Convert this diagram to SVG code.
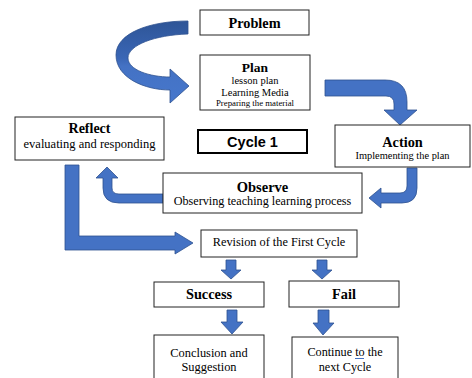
<svg xmlns="http://www.w3.org/2000/svg" width="472" height="378" viewBox="0 0 472 378">
<defs>
<style>
.box{fill:#fff;stroke:#222;stroke-width:1}
.thick{fill:#fff;stroke:#000;stroke-width:2}
.arr{fill:#4472C4;stroke:#2F528F;stroke-width:0.8}
.t{font-family:"Liberation Serif","Times New Roman",serif;fill:#000;text-anchor:middle}
.b{font-weight:bold}
.s{font-family:"Liberation Sans",Arial,sans-serif;font-weight:bold;fill:#000;text-anchor:middle}
</style>
<linearGradient id="rib" x1="0" y1="0" x2="0" y2="1">
<stop offset="0" stop-color="#2E5597"/>
<stop offset="0.45" stop-color="#3A66B5"/>
<stop offset="0.55" stop-color="#4472C4"/>
<stop offset="1" stop-color="#4677CC"/>
</linearGradient>
</defs>
<rect width="472" height="378" fill="#fff"/>
<g id="connectors">
<path d="M188,21 C150,21 116,33 116,55 C116,78 145,90 170,90 L170,103 L189,86 L170,69 L170,77 C150,77 128,70 128,58 C128,45 155,35 188,34 Z" fill="url(#rib)" stroke="#2F528F" stroke-width="0.8"/>
<path class="arr" d="M325,80 L385,80 Q407,80 407,102 L407,110 L417,110 L400,125 L384,110 L394,110 L394,104 Q394,96 386,96 L325,96 Z"/>
<path class="arr" d="M407,168 L417,168 L417,188 Q417,203 402,203 L381,203 L381,208 L369,198 L381,188 L381,193 L400,193 Q407,193 407,186 Z"/>
<path class="arr" d="M163,194 L163,203 L119,203 Q103,203 103,188 L103,178 L96,178 L107,167 L118,178 L112,178 L112,188 Q112,194 119,194 Z"/>
<path class="arr" d="M65,165 L79,165 L79,236 L175,236 L175,232 L193,243 L175,254 L175,250 L65,250 Z"/>
<path class="arr" d="M226,260 L236,260 L236,270 L241,270 L231,279 L221,270 L226,270 Z"/>
<path class="arr" d="M317,260 L327,260 L327,270 L332,270 L322,279 L312,270 L317,270 Z"/>
<path class="arr" d="M227,310 L237,310 L237,322 L243,322 L232,334 L221,322 L227,322 Z"/>
<path class="arr" d="M318,310 L329,310 L329,323 L334,323 L323,335 L313,323 L318,323 Z"/>
</g>
<g id="problem">
<rect class="box" x="200" y="10" width="109" height="25"/>
<text class="t b" x="254.5" y="27.5" font-size="14.3">Problem</text>
</g>
<g id="plan">
<rect class="box" x="200" y="55" width="110" height="55"/>
<text class="t b" x="255" y="71.5" font-size="13.5">Plan</text>
<text class="t" x="255" y="84" font-size="10.5">lesson plan</text>
<text class="t" x="255" y="95.8" font-size="10.5">Learning Media</text>
<text class="t" x="255" y="106" font-size="8.8">Preparing the material</text>
</g>
<g id="reflect">
<rect class="box" x="15" y="117" width="149" height="43"/>
<text class="t b" x="89.5" y="133" font-size="14">Reflect</text>
<text class="t" x="89.5" y="147.5" font-size="12.5">evaluating and responding</text>
</g>
<g id="cycle1">
<rect class="thick" x="198" y="130" width="109" height="23"/>
<text class="s" x="252.5" y="147" font-size="14.5">Cycle 1</text>
</g>
<g id="action">
<rect class="box" x="335" y="125" width="135" height="42"/>
<text class="t b" x="402.5" y="146.5" font-size="14.3">Action</text>
<text class="t" x="402.5" y="159" font-size="10.4">Implementing the plan</text>
</g>
<g id="observe">
<rect class="box" x="163" y="173" width="199" height="40"/>
<text class="t b" x="262.5" y="191.5" font-size="14.5">Observe</text>
<text class="t" x="262.5" y="205" font-size="12.2">Observing teaching learning process</text>
</g>
<g id="revision">
<rect class="box" x="201" y="230" width="156" height="27"/>
<text class="t" x="279" y="245.5" font-size="12.3">Revision of the First Cycle</text>
</g>
<g id="success">
<rect class="box" x="154" y="282" width="110" height="25"/>
<text class="t b" x="209" y="298.5" font-size="14.3">Success</text>
</g>
<g id="fail">
<rect class="box" x="289" y="281" width="110" height="26"/>
<text class="t b" x="344" y="298.5" font-size="14.3">Fail</text>
</g>
<g id="conclusion">
<rect class="box" x="154" y="335" width="110" height="50"/>
<text class="t" x="209" y="357" font-size="12.4">Conclusion and</text>
<text class="t" x="209" y="371" font-size="12.4">Suggestion</text>
</g>
<g id="continue">
<rect class="box" x="292" y="337" width="106" height="50"/>
<text class="t" x="345" y="356" font-size="12.2">Continue to the</text>
<line x1="355" y1="358.5" x2="364" y2="358.5" stroke="#4472C4" stroke-width="1"/>
<text class="t" x="345" y="371" font-size="12.2">next Cycle</text>
</g>
</svg>
